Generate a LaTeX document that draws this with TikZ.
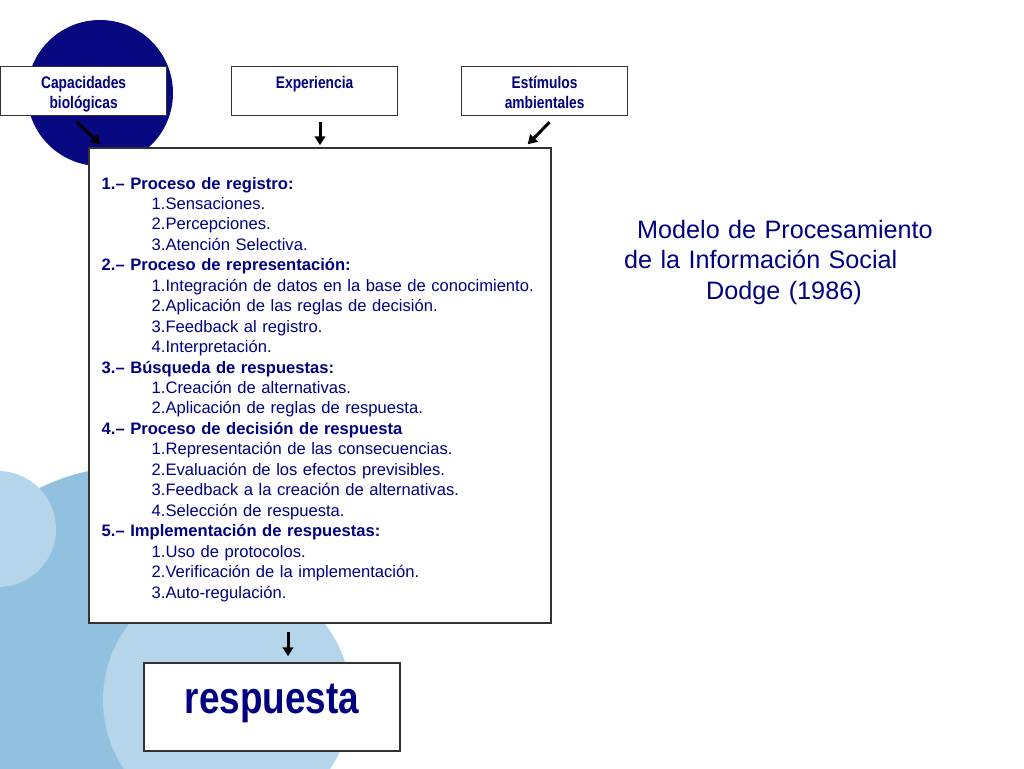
\documentclass[tikz,border=0pt]{standalone}
\usepackage{fontspec}
\setmainfont{Liberation Sans}
\newfontfamily\narrowfont[FakeStretch=0.82]{Liberation Sans}
\usetikzlibrary{arrows.meta}

\definecolor{navytext}{RGB}{0,0,128}
\definecolor{darkdisc}{RGB}{8,8,128}
\definecolor{midblue}{RGB}{146,193,223}
\definecolor{paleblue}{RGB}{181,214,234}
\definecolor{boxline}{RGB}{50,50,50}

\tikzset{
    topbox/.style={draw=boxline, line width=1.2pt, fill=white, anchor=north west,
        text width=150pt, align=center, text height=16pt, text depth=21pt,
        inner xsep=8pt, inner ysep=6pt, text=navytext,
        font=\narrowfont\bfseries\fontsize{16.8}{20}\selectfont},
    arr/.style={line width=3pt, -{Triangle[length=9pt,width=10.5pt]}},
}
\newcommand{\head}[1]{{\bfseries #1}}
\newcommand{\sub}{\hspace*{50pt}}

\begin{document}
\begin{tikzpicture}[x=1pt,y=-1pt]
    \useasboundingbox (0,0) rectangle (1024,768);
    \fill[white] (0,0) rectangle (1024,768);
    % background discs
    \begin{scope}
        \clip (0,0) rectangle (1024,768);
        \fill[midblue] (129,667) circle[radius=200];
        \fill[paleblue] (227,700) circle[radius=124];
        \fill[paleblue] (-2,529) circle[radius=58];
        \fill[darkdisc] (100,93) circle[radius=73];
    \end{scope}

    % top boxes
    \node[topbox] (cap) at (0,66) {Capacidades\\biológicas};
    \node[topbox] (exp) at (231,66) {Experiencia};
    \node[topbox] (est) at (461,66) {Estímulos\\ambientales};

    % process box
    \node[draw=boxline, line width=1.5pt, fill=white, minimum width=462pt, minimum height=475pt] (proc) at (320,385.5) {};
    \node[anchor=base west, inner sep=0pt, text width=440pt, align=left, text=navytext,
        font=\fontsize{16.6}{20.45}\selectfont] (items) at (101.5,189) {%
        \head{1.– Proceso de registro:}\\
        \sub 1.Sensaciones.\\
        \sub 2.Percepciones.\\
        \sub 3.Atención Selectiva.\\
        \head{2.– Proceso de representación:}\\
        \sub 1.Integración de datos en la base de conocimiento.\\
        \sub 2.Aplicación de las reglas de decisión.\\
        \sub 3.Feedback al registro.\\
        \sub 4.Interpretación.\\
        \head{3.– Búsqueda de respuestas:}\\
        \sub 1.Creación de alternativas.\\
        \sub 2.Aplicación de reglas de respuesta.\\
        \head{4.– Proceso de decisión de respuesta}\\
        \sub 1.Representación de las consecuencias.\\
        \sub 2.Evaluación de los efectos previsibles.\\
        \sub 3.Feedback a la creación de alternativas.\\
        \sub 4.Selección de respuesta.\\
        \head{5.– Implementación de respuestas:}\\
        \sub 1.Uso de protocolos.\\
        \sub 2.Verificación de la implementación.\\
        \sub 3.Auto-regulación.};

    % result box
    \node[draw=boxline, line width=1.5pt, fill=white, minimum width=256pt, minimum height=88pt,
        text depth=16pt, text=navytext, font=\narrowfont\bfseries\fontsize{45}{50}\selectfont] (resp) at (272,707) {respuesta};

    % title
    \node[anchor=base west, inner sep=0pt, text width=330pt, align=left, text=navytext,
        font=\fontsize{25.2}{30.5}\selectfont] (title) at (624,238) {%
        \hspace*{13pt}Modelo de Procesamiento\\
        de la Información Social\\
        \hspace*{82pt}Dodge (1986)};

    % arrows
    \draw[arr] ([shift={(77,6)}]cap.south west) -- ([shift={(12,-3)}]proc.north west);
    \draw[arr] ([shift={(0,6)}]proc.north |- exp.south) -- ([shift={(0,-2)}]proc.north);
    \draw[arr] ([shift={(5,6)}]est.south) -- ([shift={(-24,-3)}]proc.north east);
    \draw[arr] ([shift={(-32,8)}]proc.south) -- ([shift={(16,-6)}]resp.north);
\end{tikzpicture}
\end{document}
